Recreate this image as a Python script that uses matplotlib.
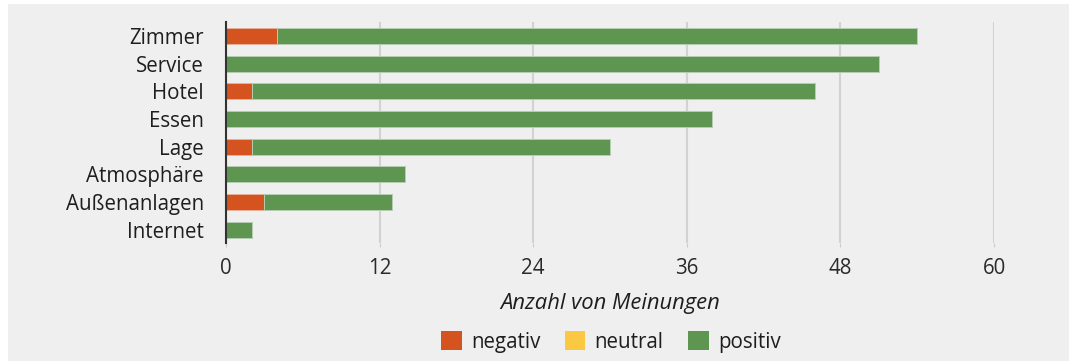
import matplotlib.pyplot as plt
import matplotlib.patches as mpatches
import numpy as np

plt.rcParams['font.family'] = ['Open Sans', 'DejaVu Sans']

categories = ['Zimmer', 'Service', 'Hotel', 'Essen', 'Lage', 'Atmosphäre', 'Außenanlagen', 'Internet']
negativ = [4, 0, 2, 0, 2, 0, 3, 0]
neutral = [0, 0, 0, 0, 0, 0, 0, 0]
positiv = [50, 51, 44, 38, 28, 14, 10, 2]
xticks = [0, 12, 24, 36, 48, 60]

colors = {'negativ': '#d4531f', 'neutral': '#fbc843', 'positiv': '#5e9651'}
bg = '#efefef'
fs = 14.8

fig = plt.figure(figsize=(10.69, 3.61), dpi=100, facecolor='white')
# grey panel behind everything, leaving a thin white margin top/left
fig.patches.append(mpatches.Rectangle((8 / 1069, 0), 1, 1 - 4 / 361, transform=fig.transFigure,
                                      facecolor=bg, edgecolor='none', zorder=-10))

ax = fig.add_axes([226 / 1069, 1 - 243 / 361, 768 / 1069, 221 / 361])
ax.set_facecolor(bg)

y = np.arange(len(categories))
neg = np.array(negativ)
neu = np.array(neutral)
pos = np.array(positiv)
h = 0.58
ax.barh(y, neg, height=h, color=colors['negativ'], edgecolor='#e6b09a', linewidth=0.7, zorder=3)
ax.barh(y, neu, left=neg, height=h, color=colors['neutral'], edgecolor='none', zorder=3)
ax.barh(y, pos, left=neg + neu, height=h, color=colors['positiv'], edgecolor='#b5cdb0', linewidth=0.7, zorder=3)

ax.set_xlim(0, 60)
ax.set_ylim(7.48, -0.5)
ax.set_yticks(y)
ax.set_yticklabels(categories, fontsize=fs, color='#1e1e1e')
ax.set_xticks(xticks)
ax.set_xticklabels([str(t) for t in xticks], fontsize=fs, color='#2a2a2a')
ax.tick_params(axis='y', length=0, pad=16)
ax.tick_params(axis='x', length=3, color='#cccccc', pad=8)

ax.grid(axis='x', color='#d2d2d2', linewidth=1.5, zorder=1)
for s in ['top', 'right', 'bottom']:
    ax.spines[s].set_visible(False)
ax.spines['left'].set_color('#333333')
ax.spines['left'].set_linewidth(1.5)
ax.spines['left'].set_zorder(4)

fig.text(610 / 1069, 1 - 304 / 361, 'Anzahl von Meinungen', ha='center', va='center',
         fontsize=15.8, style='italic', color='#1e1e1e')

handles = [mpatches.Patch(facecolor=colors[k], edgecolor='none', label=k) for k in ['negativ', 'neutral', 'positiv']]
fig.legend(handles=handles, loc='center', bbox_to_anchor=(611 / 1069, 1 - 342 / 361), ncol=3,
           frameon=False, fontsize=fs, handlelength=1.0, handleheight=1.0, handletextpad=0.45,
           columnspacing=1.2, labelcolor='#1e1e1e')

fig.savefig('out.png', dpi=100, facecolor='white')
